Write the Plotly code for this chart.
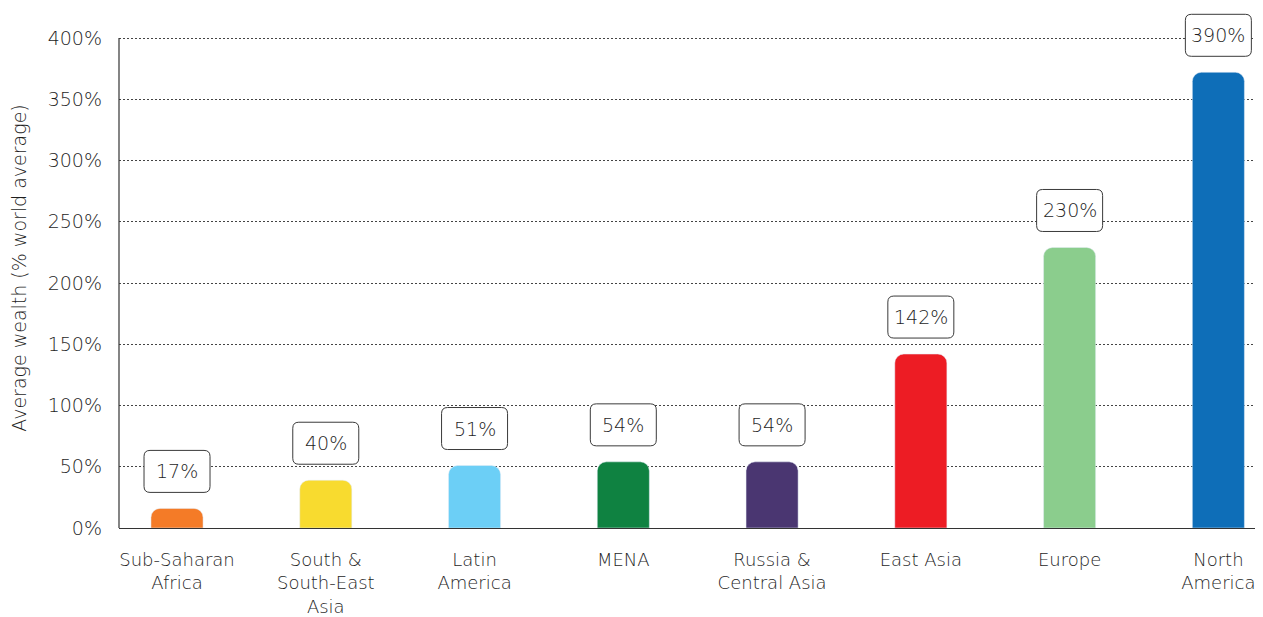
import plotly.graph_objects as go

categories = ["Sub-Saharan<br>Africa", "South &<br>South-East<br>Asia", "Latin<br>America", "MENA",
              "Russia &<br>Central Asia", "East Asia", "Europe", "North<br>America"]
bar_values = [16, 39, 51, 54, 54, 142, 229, 372]
label_texts = ["17%", "40%", "51%", "54%", "54%", "142%", "230%", "390%"]
colors = ["#F47B27", "#F8DB2F", "#6CCFF6", "#0F8241", "#4A3671", "#ED1C24", "#8BCD8D", "#0E6EB8"]
y_ticks = [0, 50, 100, 150, 200, 250, 300, 350, 400]
y_ticktext = [f"{v}%" for v in y_ticks]

FONT = "DejaVu Sans"
WEIGHT = 300
TXT = "#1e1e1e"
FS = 19

fig = go.Figure(go.Bar(x=list(range(len(categories))), y=bar_values, marker_color=colors,
                       width=0.35, hoverinfo="skip"))

# rounded label boxes (pixel-sized, anchored to the bar tops)
w, h, r, off = 33, 21, 6, 37
box = (f"M {-w+r},{off-h} L {w-r},{off-h} Q {w},{off-h} {w},{off-h+r} L {w},{off+h-r} "
       f"Q {w},{off+h} {w-r},{off+h} L {-w+r},{off+h} Q {-w},{off+h} {-w},{off+h-r} "
       f"L {-w},{off-h+r} Q {-w},{off-h} {-w+r},{off-h} Z")
for i, (v, t) in enumerate(zip(bar_values, label_texts)):
    fig.add_shape(type="path", xref="x", yref="y", xsizemode="pixel", ysizemode="pixel",
                  xanchor=i, yanchor=v, path=box, line=dict(color="#3a3a3a", width=1),
                  fillcolor="white", layer="above")
    fig.add_annotation(x=i, y=v, text=t, showarrow=False, yshift=off,
                       font=dict(family=FONT, size=FS, color=TXT, weight=WEIGHT))

# y axis line from 0 to 400 only
fig.add_shape(type="line", xref="paper", yref="y", x0=0, x1=0, y0=0, y1=y_ticks[-1],
              line=dict(color="#333333", width=1.2), layer="above")

fig.update_layout(
    width=1255, height=609,
    margin=dict(l=111, r=0, t=0, b=89),
    plot_bgcolor="white", paper_bgcolor="white",
    showlegend=False,
    barcornerradius=9,
    font=dict(family=FONT, color=TXT, weight=WEIGHT),
    xaxis=dict(range=[-0.39, 7.3], tickmode="array", tickvals=list(range(len(categories))),
               ticktext=categories, showgrid=False, showline=True, linecolor="#333333",
               linewidth=1.2, ticks="", ticklabelstandoff=15, automargin=False,
               tickfont=dict(family=FONT, size=18, color=TXT, weight=WEIGHT),
               zeroline=False, fixedrange=True),
    yaxis=dict(range=[0, 424.5], tickmode="array", tickvals=y_ticks, ticktext=y_ticktext,
               showgrid=True, gridcolor="#444444", griddash="2px,2px", gridwidth=1,
               showline=False, ticks="", ticklabelstandoff=16, automargin=False,
               tickfont=dict(family=FONT, size=FS, color=TXT, weight=WEIGHT),
               title=dict(text="Average wealth (% world average)", standoff=16,
                          font=dict(family=FONT, size=FS, color=TXT, weight=WEIGHT)),
               zeroline=False, fixedrange=True),
)
fig.write_html("out.html")
